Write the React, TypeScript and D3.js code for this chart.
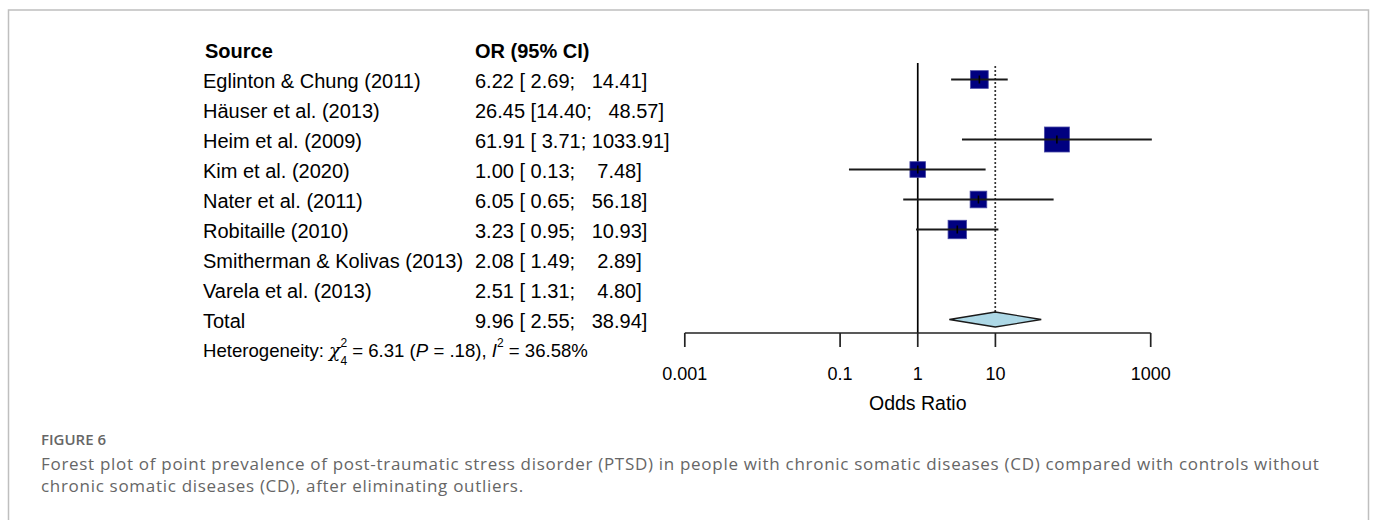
import React from "react";
import * as d3 from "d3";

const studies = [
  "Eglinton & Chung (2011)",
  "Häuser et al. (2013)",
  "Heim et al. (2009)",
  "Kim et al. (2020)",
  "Nater et al. (2011)",
  "Robitaille (2010)",
  "Smitherman & Kolivas (2013)",
  "Varela et al. (2013)",
];
const oddsRatio = [6.22, 26.45, 61.91, 1.0, 6.05, 3.23, 2.08, 2.51];
const ciLower = [2.69, 14.4, 3.71, 0.13, 0.65, 0.95, 1.49, 1.31];
const ciUpper = [14.41, 48.57, 1033.91, 7.48, 56.18, 10.93, 2.89, 4.8];
// weights (%) of the studies kept in the model; null = outlier eliminated (no marker)
const weights: (number | null)[] = [17.4, null, 34.7, 13.6, 15.4, 18.9, null, null];
const totalLabel = "Total";
const totalOR = 9.96;
const totalLower = 2.55;
const totalUpper = 38.94;
const tickValues = [0.001, 0.1, 1, 10, 1000];
const heterogeneity = { df: 4, q: "6.31", p: ".18", i2: "36.58%" };
const captionTitle = "FIGURE 6";
const captionLines = [
  "Forest plot of point prevalence of post-traumatic stress disorder (PTSD) in people with chronic somatic diseases (CD) compared with controls without",
  "chronic somatic diseases (CD), after eliminating outliers.",
];

const W = 1375;
const H = 520;
const FONT = "'Liberation Sans', Arial, sans-serif";

function fmtCI(or: number, lo: number, hi: number) {
  return `${or.toFixed(2)} [${lo.toFixed(2).padStart(5, " ")}; ${hi.toFixed(2).padStart(7, " ")}]`;
}

export default function App() {
  const x = d3.scaleLog().domain([0.001, 1000]).range([684.8, 1150.7]);
  const rowY = d3.scaleLinear().domain([0, 8]).range([79.5, 319.5]);
  const maxW = d3.max(weights.filter((w) => w != null) as number[]) as number;
  const side = d3.scaleSqrt().domain([0, maxW]).range([0, 25]);
  const axisY = 333;
  const nameX = 203;
  const orX = 475;
  const tb = 8; // text baseline offset from row centre

  const dh = 7.5;
  const diamond = [
    [x(totalLower), rowY(8)],
    [x(totalOR), rowY(8) - dh],
    [x(totalUpper), rowY(8)],
    [x(totalOR), rowY(8) + dh],
  ];

  return (
    <svg
      width={W}
      height={H}
      style={{ position: "absolute", left: 0, top: 0, background: "#fff" }}
      fontFamily={FONT}
    >
      <rect x={0} y={0} width={W} height={H} fill="#fff" />
      {/* frame */}
      <rect x={8.5} y={10} width={1360} height={700} fill="none" stroke="#bfbfbf" strokeWidth={1.5} />

      {/* headers */}
      <text x={205} y={rowY(-1) + tb} fontSize={20} fontWeight="bold" fill="#000">Source</text>
      <text x={orX} y={rowY(-1) + tb} fontSize={20} fontWeight="bold" fill="#000">OR (95% CI)</text>

      {/* study rows */}
      {studies.map((s, i) => (
        <g key={s}>
          <text x={nameX} y={rowY(i) + tb} fontSize={20} fill="#000">{s}</text>
          <text x={orX} y={rowY(i) + tb} fontSize={20} fill="#000" style={{ whiteSpace: "pre" }}>
            {fmtCI(oddsRatio[i], ciLower[i], ciUpper[i])}
          </text>
        </g>
      ))}
      <text x={nameX} y={rowY(8) + tb} fontSize={20} fill="#000">{totalLabel}</text>
      <text x={orX} y={rowY(8) + tb} fontSize={20} fill="#000" style={{ whiteSpace: "pre" }}>
        {fmtCI(totalOR, totalLower, totalUpper)}
      </text>

      {/* heterogeneity */}
      <text x={nameX} y={rowY(9) + 7} fontSize={18.6} fill="#000" style={{ whiteSpace: "pre" }}>
        <tspan>Heterogeneity: </tspan>
        <tspan fontFamily="'DejaVu Serif', serif" fontStyle="italic">χ</tspan>
        <tspan fontSize={12} dy={-10}>2</tspan>
        <tspan fontSize={12} dx={-6.7} dy={18}>{heterogeneity.df}</tspan>
        <tspan dy={-8}>{` = ${heterogeneity.q} (`}</tspan>
        <tspan fontStyle="italic">P</tspan>
        <tspan>{` = ${heterogeneity.p}), `}</tspan>
        <tspan fontStyle="italic">I</tspan>
        <tspan fontSize={12} dy={-10}>2</tspan>
        <tspan dy={10}>{` = ${heterogeneity.i2}`}</tspan>
      </text>

      {/* reference lines */}
      <line x1={x(1)} x2={x(1)} y1={63} y2={axisY} stroke="#000" strokeWidth={1.7} />
      <line
        x1={x(totalOR)}
        x2={x(totalOR)}
        y1={66}
        y2={rowY(8) - dh}
        stroke="#333"
        strokeWidth={1.7}
        strokeDasharray="2,2"
      />

      {/* study markers */}
      {studies.map((s, i) => {
        const w = weights[i];
        if (w == null) return null;
        const cy = rowY(i);
        const cx = x(oddsRatio[i]);
        const sz = side(w);
        return (
          <g key={"m" + i}>
            <rect x={cx - sz / 2} y={cy - sz / 2} width={sz} height={sz} fill="#000080" stroke="#4a4aa6" strokeWidth={0.8} />
            <line x1={x(ciLower[i])} x2={x(ciUpper[i])} y1={cy} y2={cy} stroke="#1a1a1a" strokeWidth={1.8} />
            <line x1={cx} x2={cx} y1={cy - 4} y2={cy + 4} stroke="#000" strokeWidth={1.6} />
          </g>
        );
      })}

      {/* summary diamond */}
      <polygon points={diamond.map((p) => p.join(",")).join(" ")} fill="#add8e6" stroke="#1a1a1a" strokeWidth={1.3} />

      {/* axis */}
      <line x1={x(0.001)} x2={x(1000)} y1={axisY} y2={axisY} stroke="#222" strokeWidth={1.7} />
      {tickValues.map((t) => (
        <g key={t}>
          <line x1={x(t)} x2={x(t)} y1={axisY} y2={axisY + 14} stroke="#222" strokeWidth={1.7} />
          <text x={x(t)} y={380} fontSize={18} textAnchor="middle" fill="#000">
            {String(t)}
          </text>
        </g>
      ))}
      <text x={(x(0.001) + x(1000)) / 2} y={410} fontSize={19.5} textAnchor="middle" fill="#000">
        Odds Ratio
      </text>

      {/* caption */}
      <text x={41} y={445} fontSize={15} fontWeight={600} fill="#666" fontFamily="'Open Sans', sans-serif">
        {captionTitle}
      </text>
      {captionLines.map((l, i) => (
        <text
          key={i}
          x={41}
          y={470 + i * 22}
          fontSize={17}
          letterSpacing={0.7}
          fill="#666"
          fontFamily="'Open Sans', sans-serif"
        >
          {l}
        </text>
      ))}
    </svg>
  );
}
